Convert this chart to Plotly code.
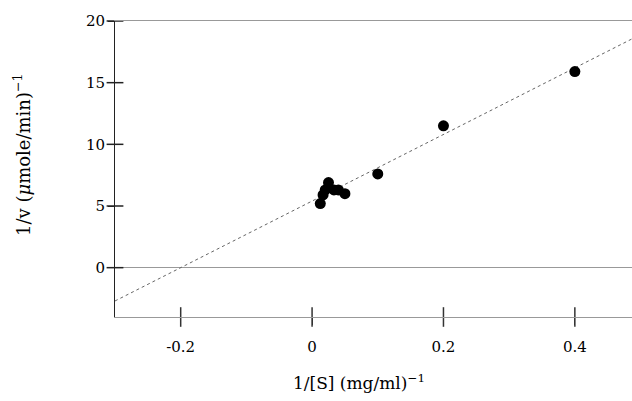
import plotly.graph_objects as go

# Lineweaver-Burk data
inv_s = [0.0125, 0.0167, 0.02, 0.025, 0.0333, 0.04, 0.05, 0.1, 0.2, 0.4]
inv_v = [5.2, 5.9, 6.3, 6.9, 6.3, 6.3, 6.0, 7.6, 11.5, 15.9]

# fitted line parameters
fit_slope = 27.0
fit_intercept = 5.4

# axis ranges and ticks
x_range = [-0.3, 0.487]
y_range = [-4, 20]
x_ticks = [-0.2, 0, 0.2, 0.4]
x_ticklabels = ["-0.2", "0", "0.2", "0.4"]
y_ticks = [0, 5, 10, 15, 20]

fit_x = [x_range[0], 0.49]
fit_y = [fit_slope * x + fit_intercept for x in fit_x]

FONT = "DejaVu Serif"

fig = go.Figure()
fig.add_trace(go.Scatter(x=fit_x, y=fit_y, mode="lines",
                         line=dict(color="#666", width=1, dash="dot"),
                         showlegend=False, hoverinfo="skip"))
fig.add_trace(go.Scatter(x=inv_s, y=inv_v, mode="markers",
                         marker=dict(color="black", size=11),
                         showlegend=False))
# crossing tick marks, placed from the tick lists on the axis edges
fig.add_trace(go.Scatter(x=x_ticks, y=[y_range[0]] * len(x_ticks), mode="markers",
                         marker=dict(symbol="line-ns-open", size=14, color="#333",
                                     line=dict(width=1.5, color="#333")),
                         cliponaxis=False, showlegend=False, hoverinfo="skip"))
fig.add_trace(go.Scatter(x=[x_range[0]] * len(y_ticks), y=y_ticks, mode="markers",
                         marker=dict(symbol="line-ew-open", size=12, color="#222",
                                     line=dict(width=1.5, color="#222")),
                         cliponaxis=False, showlegend=False, hoverinfo="skip"))

fig.update_layout(
    template="simple_white",
    width=632, height=401,
    margin=dict(l=115, r=0, t=21, b=84),
    paper_bgcolor="white", plot_bgcolor="white",
    font=dict(family=FONT, size=15, color="black"),
    xaxis=dict(range=x_range, showgrid=False, zeroline=False,
               tickmode="array", tickvals=x_ticks, ticktext=x_ticklabels,
               ticks="outside", ticklen=7, tickcolor="#333", tickwidth=1,
               ticklabelstandoff=9,
               showline=True, linecolor="#999", linewidth=1, mirror=True,
               tickfont=dict(family=FONT, size=15, color="black")),
    yaxis=dict(range=y_range, showgrid=False, zeroline=True,
               zerolinecolor="#999", zerolinewidth=1,
               tickmode="array", tickvals=y_ticks,
               ticks="outside", ticklen=6, tickcolor="#222", tickwidth=1,
               showline=True, linecolor="#222", linewidth=1,
               tickfont=dict(family=FONT, size=15, color="black")),
    annotations=[
        dict(text="1/[S] (mg/ml)<sup>−1</sup>", xref="paper", yref="paper",
             x=(359 - 115) / 517, y=(317 - 382) / 296.0,
             xanchor="center", yanchor="middle",
             showarrow=False, font=dict(size=17, family=FONT)),
        dict(text="1/v (<i>μ</i>mole/min)<sup>−1</sup>", xref="paper", yref="paper",
             x=(22 - 115) / 517, y=(317 - 155) / 296.0, textangle=-90,
             xanchor="center", yanchor="middle",
             showarrow=False, font=dict(size=18, family=FONT)),
    ],
)

fig.write_html("out.html")
